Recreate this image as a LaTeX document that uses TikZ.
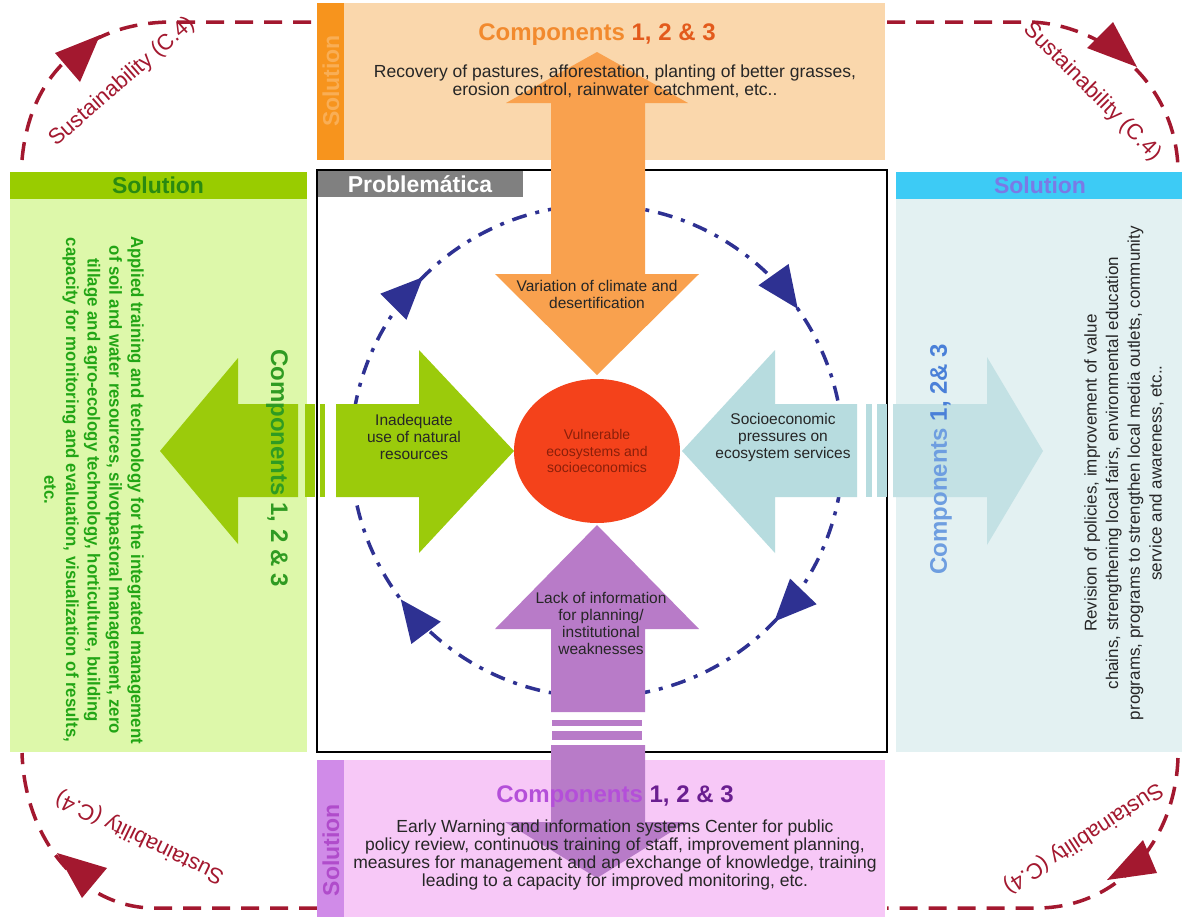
\documentclass[tikz,border=0pt]{standalone}
\usepackage{fontspec}
\setmainfont{Liberation Sans}
\newfontfamily\narrowsans[FakeStretch=0.96]{Liberation Sans}
\usetikzlibrary{arrows.meta,decorations.markings,shapes.geometric}

\newcommand\fsz[2]{\fontsize{#1}{#2}\selectfont}

\definecolor{susred}{HTML}{A3182F}
\definecolor{circblue}{HTML}{2E3192}
\definecolor{toppanel}{HTML}{FAD7AC}
\definecolor{topstrip}{HTML}{F7941D}
\definecolor{topstriptext}{HTML}{F9AE55}
\definecolor{orangearrow}{HTML}{F9A14E}
\definecolor{orangetitle}{HTML}{F28A2E}
\definecolor{orangenum}{HTML}{E35A1C}
\definecolor{leftpanel}{HTML}{DDF8AA}
\definecolor{greenhead}{HTML}{99CC00}
\definecolor{greenarrow}{HTML}{9BCB0B}
\definecolor{darkgreen}{HTML}{2A8A10}
\definecolor{compgreen}{HTML}{2F9B22}
\definecolor{greentext}{HTML}{22A515}
\definecolor{rightpanel}{HTML}{E3F1F2}
\definecolor{cyanhead}{HTML}{3DCBF5}
\definecolor{cyantext}{HTML}{7A7AE6}
\definecolor{bluearrow}{HTML}{B7DCDF}
\definecolor{bluearrowlight}{HTML}{C3E1E4}
\definecolor{bluetitle}{HTML}{6E9EE0}
\definecolor{bluenum}{HTML}{4A80D8}
\definecolor{botpanel}{HTML}{F7C8F7}
\definecolor{botstrip}{HTML}{D08BE8}
\definecolor{botstriptext}{HTML}{B04CCB}
\definecolor{purplearrow}{HTML}{B87BC8}
\definecolor{purpletitle}{HTML}{B44FD9}
\definecolor{purplenum}{HTML}{6A1E90}
\definecolor{vulnred}{HTML}{F4421B}
\definecolor{vulntext}{HTML}{8A1F0A}
\definecolor{probgray}{HTML}{808080}

\begin{document}
\begin{tikzpicture}[x=1pt,y=-1pt,
    susline/.style={draw=susred, line width=3.5pt, dash pattern=on 18pt off 11pt},
    sustext/.style={text=susred, font=\fsz{22}{24}, inner sep=0pt},
    circline/.style={draw=circblue, line width=3.5pt, dash pattern=on 15pt off 9pt on 4pt off 9pt},
    circarrow/.style={decoration={markings,
        mark=at position 0.122 with {\arrow[circblue]{Triangle[length=42pt,width=36pt]}},
        mark=at position 0.397 with {\arrow[circblue]{Triangle[length=42pt,width=36pt]}},
        mark=at position 0.625 with {\arrow[circblue]{Triangle[length=42pt,width=36pt]}},
        mark=at position 0.902 with {\arrow[circblue]{Triangle[length=42pt,width=36pt]}}}},
    probtext/.style={font=\fsz{15.5}{17}, align=center, text=black!85, inner sep=0pt},
    bodytext/.style={font=\fsz{17.5}{18}, align=center, text=black!85, inner sep=0pt},
    bigtitle/.style={font=\fsz{24}{26}\bfseries, inner sep=0pt},
    soltitle/.style={font=\fsz{23}{25}\bfseries, inner sep=0pt},
]

    % Page
    \fill[white] (0,0) rectangle (1184,922);
    \useasboundingbox (0,0) rectangle (1184,922);

    % Sustainability loop (C.4)
    \draw[susline] (22,160) .. controls (30,70) and (90,23) .. (170,22) -- (317,22);
    \draw[susline] (887,22) -- (1030,22) .. controls (1100,24) and (1175,80) .. (1178,168);
    \draw[susline] (1178,758) .. controls (1175,840) and (1120,906) .. (1040,908) -- (887,908);
    \draw[susline] (317,908) -- (150,908) .. controls (80,905) and (25,840) .. (22,753);
    % arrowheads
    \fill[susred] (55,53) -- (100,35) -- (80,82) -- cycle;
    \fill[susred] (1087,48) -- (1113,22) -- (1137,67) -- cycle;
    \fill[susred] (1107,880) -- (1143,840) -- (1157,873) -- cycle;
    \fill[susred] (57,853) -- (107,868) -- (82,898) -- cycle;
    % labels
    \node[sustext, rotate=41] (susTL) at (122,82) {Sustainability (C.4)};
    \node[sustext, rotate=-45] (susTR) at (1092,92) {Sustainability (C.4)};
    \node[sustext, rotate=-147] (susBR) at (1083,838) {Sustainability (C.4)};
    \node[sustext, rotate=154] (susBL) at (140,837) {Sustainability (C.4)};

    % Solution panels
    \fill[toppanel] (317,3) rectangle (885,160);
    \fill[topstrip] (317,3) rectangle (344,160);
    \fill[leftpanel] (10,172) rectangle (307,752);
    \fill[greenhead] (10,172) rectangle (307,199);
    \fill[rightpanel] (896,172) rectangle (1182,752);
    \fill[cyanhead] (896,172) rectangle (1182,199);
    \fill[botpanel] (317,760) rectangle (885,917);
    \fill[botstrip] (317,760) rectangle (344,917);

    % Problematica box
    \draw[fill=white, line width=1.3pt] (317,170) rectangle (887,752);
    \fill[probgray] (318,171) rectangle (523,197);
    \node[soltitle, text=white] (probTitle) at (420,184) {Problemática};

    % Dash-dot cycle
    \draw[circline, circarrow, postaction={decorate}] (597,451) circle[radius=246];

    % Orange arrow (up and down)
    \fill[orangearrow] (597,52) -- (688,103) -- (645,103) -- (645,274) -- (699,274) -- (597,375)
        -- (495,274) -- (551,274) -- (551,103) -- (506,103) -- cycle;

    % Green arrows
    \fill[greenarrow] (160,451) -- (238,358) -- (238,404) -- (298,404) -- (298,497) -- (238,497) -- (238,544) -- cycle;
    \foreach \xa/\xb in {305/315, 320/325}
        \fill[greenarrow] (\xa,404) rectangle (\xb,497);
    \fill[greenarrow] (336,404) -- (419,404) -- (419,350) -- (514,451) -- (419,553) -- (419,497) -- (336,497) -- cycle;

    % Light blue arrows
    \fill[bluearrow] (682,451) -- (775,350) -- (775,404) -- (857,404) -- (857,497) -- (775,497) -- (775,553) -- cycle;
    \foreach \xa/\xb in {866/872, 877/887}
        \fill[bluearrow] (\xa,404) rectangle (\xb,497);
    \fill[bluearrowlight] (893,404) -- (987,404) -- (987,357) -- (1043,451) -- (987,545) -- (987,497) -- (893,497) -- cycle;

    % Purple arrows
    \fill[purplearrow] (597,525) -- (699,629) -- (645,629) -- (645,712) -- (551,712) -- (551,629) -- (495,629) -- cycle;
    \foreach \ya/\yb in {720/726, 731/740}
        \fill[purplearrow] (552,\ya) rectangle (642,\yb);
    \fill[purplearrow] (551,745) -- (645,745) -- (645,822) -- (687,822) -- (597,878) -- (505,822) -- (551,822) -- cycle;

    % Centre
    \node[ellipse, fill=vulnred, minimum width=166pt, minimum height=144pt, probtext,
        font=\fsz{14}{16.5}, text=vulntext] (vulnEco) at (597,451) {Vulnerable\\ecosystems and\\socioeconomics};

    % Problems
    \node[probtext] (varClimate) at (597,294) {Variation of climate and\\desertification};
    \node[probtext] (inadUse) at (414,437) {Inadequate\\use of natural\\resources};
    \node[probtext] (socioPress) at (783,437) {Socioeconomic\\pressures on\\ecosystem services};
    \node[probtext] (lackInfo) at (601,623) {Lack of information\\for planning/\\institutional\\weaknesses};

    % Top solution
    \node[soltitle, text=topstriptext, rotate=90] (topSol) at (331,81) {Solution};
    \node[bigtitle] (topComp) at (597,35) {\textcolor{orangetitle}{Components} \textcolor{orangenum}{1, 2 \& 3}};
    \node[bodytext] (topBody) at (615,81) {Recovery of pastures, afforestation, planting of better grasses,\\erosion control, rainwater catchment, etc..};

    % Left solution
    \node[soltitle, text=darkgreen] (leftSol) at (158,185) {Solution};
    \node[bigtitle, text=compgreen, rotate=-90] (leftComp) at (277,468) {Components 1, 2 \& 3};
    \node[font=\narrowsans\bfseries\fsz{17.5}{21.7}, text=greentext, align=center, rotate=-90, inner sep=0pt] (leftBody) at (94,490)
        {Applied training and technology for the integrated management\\of soil and water resources, silvotpastoral management, zero\\tillage and agro-ecology technology, horticulture, building\\capacity for monitoring and evaluation, visualization of results,\\etc.};

    % Right solution
    \node[soltitle, text=cyantext] (rightSol) at (1040,185) {Solution};
    \node[bigtitle, rotate=90] (rightComp) at (941,459) {\textcolor{bluetitle}{Components} \textcolor{bluenum}{1, 2\& 3}};
    \node[bodytext, font=\fsz{17}{21.7}, rotate=90] (rightBody) at (1124,473)
        {Revision of policies, improvement of value\\chains, strengthening local fairs, environmental education\\programs, programs to strengthen local media outlets, community\\service and awareness,  etc..};

    % Bottom solution
    \node[soltitle, text=botstriptext, rotate=90] (botSol) at (331,850) {Solution};
    \node[bigtitle] (botComp) at (615,797) {\textcolor{purpletitle}{Components} \textcolor{purplenum}{1, 2 \& 3}};
    \node[bodytext] (botBody) at (615,855) {Early Warning  and information systems Center for public\\policy review, continuous training of staff, improvement planning,\\measures for management and an exchange of knowledge, training\\leading to a capacity for improved monitoring, etc.};
\end{tikzpicture}
\end{document}
